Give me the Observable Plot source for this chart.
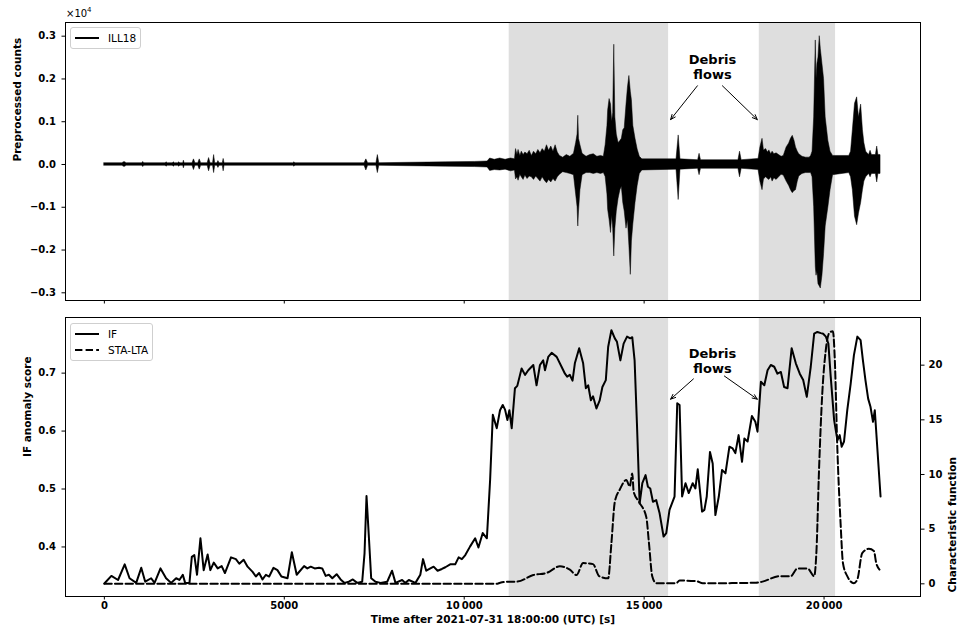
<!DOCTYPE html>
<html>
<head>
<meta charset="utf-8">
<script src="https://cdn.jsdelivr.net/npm/d3@7"></script>
<script src="https://cdn.jsdelivr.net/npm/@observablehq/plot@0.6"></script>
<style>
  body { margin: 0; background: #fff; }
  #chart { position: relative; width: 957px; height: 633px; font-family: "DejaVu Sans", sans-serif; background: #fff; overflow: hidden; }
  #chart svg { position: absolute; left: 0; }
  .legend { position: absolute; box-sizing: border-box; border: 1px solid #cfcfcf; border-radius: 3px; background: rgba(255,255,255,0.85); font-size: 10.5px; color: #000; padding: 2px 4px; }
  .legend .row { display: flex; align-items: center; height: 16px; }
  .legend svg { position: static !important; margin-right: 9px; }
  .mult { position: absolute; left: 66px; top: 6px; font-size: 10px; }
  .mult sup { font-size: 7px; vertical-align: 5px; }
</style>
</head>
<body>
<div id="chart"></div>
<script>
// ---------- texts ----------
const stationName = "ILL18";
const seriesNames = ["IF", "STA-LTA"];
const countLabel = "Preprocessed counts";
const ifLabel = "IF anomaly score";
const cfLabel = "Characteristic function";
const timeLabel = "Time after 2021-07-31 18:00:00 (UTC) [s]";
const annotationText = "Debris\nflows";

// ---------- ticks ----------
const timeTicks = [0, 5000, 10000, 15000, 20000];
const timeTickLabels = ["0", "5000", "10\u2009000", "15\u2009000", "20\u2009000"];
const countTicks = [-0.3, -0.2, -0.1, 0, 0.1, 0.2, 0.3];
const ifTicks = [0.4, 0.5, 0.6, 0.7];
const cfTicks = [0, 5, 10, 15, 20];

// ---------- debris-flow windows (s) ----------
const spanStart = [11250, 18200];
const spanEnd = [15680, 20320];

// ---------- annotation anchors (data units) ----------
const annTopT = 16900, annTopY = 0.228;
const arrowTopFromT = [16480, 17175], arrowTopFromY = [0.184, 0.184];
const arrowTopToT = [15735, 18145], arrowTopToY = [0.105, 0.105];
const annBotT = 16900, annBotY = 0.7216;
const arrowBotFromT = [16370, 17230], arrowBotFromY = [0.690, 0.695];
const arrowBotToT = [15735, 18145], arrowBotToY = [0.655, 0.655];

// ---------- seismic trace envelope (x10^4 counts) ----------
const waveT = [
  0,500,560,620,1050,1080,1110,1700,1730,1760,
  1900,1930,1960,2050,2080,2110,2190,2210,2230,2450,
  2490,2530,2610,2650,2690,2870,2910,2950,3020,3050,
  3080,3140,3170,3200,3290,3315,3340,5250,5280,5310,
  7230,7280,7330,7560,7600,7640,8500,9500,10300,10650,
  10720,10850,11000,11150,11300,11410,11440,11480,11510,11560,
  11600,11650,11700,11760,11820,11880,11940,12000,12060,12120,
  12180,12240,12300,12360,12420,12480,12540,12600,12660,12750,
  12850,12950,13050,13110,13150,13170,13190,13230,13290,13400,
  13500,13600,13700,13800,13880,13930,13980,14000,14040,14080,
  14110,14140,14170,14200,14240,14290,14340,14380,14420,14460,
  14510,14550,14590,14630,14660,14700,14760,14820,14880,14950,
  15900,15960,16010,16500,16540,16580,17620,17665,17710,18180,
  18230,18290,18330,18390,18440,18480,18530,18570,18620,18680,
  18750,18820,18880,18960,19030,19080,19130,19180,19220,19270,
  19310,19400,19500,19600,19640,19680,19725,19770,19790,19815,
  19845,19880,19910,19955,20000,20045,20120,20180,20250,20700,
  20750,20800,20860,20920,20970,21030,21080,21120,21170,21250,
  21292,21330,21440,21477,21510,21570
];
const waveHi = [
  .003,.003,.006,.003,.003,.006,.003,.003,.005,.003,
  .003,.005,.003,.003,.005,.003,.003,.009,.003,.003,
  .012,.003,.003,.012,.003,.003,.015,.003,.003,.022,
  .003,.003,.008,.003,.003,.013,.003,.003,.005,.003,
  .003,.012,.003,.003,.022,.003,.004,.005,.006,.007,
  .014,.011,.014,.011,.014,.012,.036,.022,.034,.020,
  .030,.022,.028,.024,.032,.020,.030,.024,.034,.026,
  .036,.030,.045,.032,.042,.030,.045,.028,.020,.016,
  .022,.018,.025,.050,.070,.114,.060,.045,.025,.018,
  .022,.024,.018,.020,.018,.045,.090,.126,.153,.140,
  .100,.120,.280,.110,.070,.050,.055,.060,.080,.085,
  .140,.180,.207,.170,.150,.090,.060,.035,.018,.012,
  .012,.068,.012,.010,.025,.010,.010,.030,.010,.013,
  .040,.060,.033,.036,.028,.033,.024,.030,.024,.026,
  .022,.018,.020,.040,.049,.060,.067,.055,.040,.030,
  .024,.018,.016,.016,.020,.030,.110,.290,.200,.235,
  .250,.300,.270,.235,.200,.110,.055,.030,.020,.020,
  .030,.080,.142,.157,.110,.140,.080,.050,.030,.022,
  .032,.022,.022,.042,.022,.022
];
const waveLo = [
  -.003,-.003,-.006,-.003,-.003,-.006,-.003,-.003,-.005,-.003,
  -.003,-.005,-.003,-.003,-.005,-.003,-.003,-.009,-.003,-.003,
  -.013,-.003,-.003,-.012,-.003,-.003,-.016,-.003,-.003,-.020,
  -.003,-.003,-.008,-.003,-.003,-.016,-.003,-.003,-.005,-.003,
  -.003,-.014,-.003,-.003,-.020,-.003,-.004,-.005,-.006,-.007,
  -.015,-.013,-.014,-.012,-.016,-.014,-.035,-.030,-.038,-.024,
  -.030,-.036,-.026,-.034,-.028,-.030,-.036,-.028,-.034,-.040,
  -.030,-.038,-.044,-.036,-.042,-.034,-.040,-.030,-.024,-.018,
  -.020,-.022,-.025,-.070,-.100,-.145,-.110,-.060,-.025,-.020,
  -.020,-.022,-.020,-.022,-.020,-.029,-.070,-.106,-.130,-.160,
  -.120,-.150,-.215,-.150,-.110,-.080,-.060,-.052,-.090,-.110,
  -.150,-.130,-.190,-.258,-.180,-.140,-.090,-.050,-.022,-.014,
  -.012,-.083,-.012,-.010,-.025,-.010,-.010,-.030,-.010,-.013,
  -.040,-.060,-.035,-.030,-.034,-.036,-.030,-.040,-.032,-.036,
  -.030,-.024,-.026,-.040,-.050,-.060,-.067,-.062,-.060,-.040,
  -.028,-.022,-.020,-.020,-.020,-.030,-.100,-.240,-.260,-.250,
  -.280,-.285,-.290,-.260,-.210,-.145,-.100,-.060,-.025,-.020,
  -.030,-.060,-.122,-.142,-.115,-.090,-.060,-.040,-.030,-.022,
  -.030,-.022,-.022,-.042,-.022,-.022
];

// ---------- IF anomaly score ----------
const ifT = [
  0,195,380,565,700,885,1025,1135,1300,1395,
  1560,1715,1855,1995,2085,2180,2245,2365,2430,2500,
  2575,2670,2760,2870,2945,3040,3150,3260,3350,3520,
  3655,3750,3870,3980,4120,4210,4300,4395,4490,4580,
  4700,4810,4920,5090,5210,5345,5550,5640,5735,5845,
  5965,6055,6150,6240,6335,6455,6565,6675,6795,6905,
  7025,7165,7230,7285,7350,7415,7535,7675,7860,7995,
  8090,8275,8365,8460,8645,8780,8855,8945,9060,9150,
  9260,9380,9475,9610,9750,9845,9935,10030,10165,10305,
  10395,10515,10630,10720,10795,10905,10995,11070,11135,11200,
  11255,11320,11410,11475,11595,11690,11780,11920,12010,12105,
  12195,12245,12335,12430,12570,12705,12800,12860,12935,13010,
  13075,13195,13305,13380,13445,13520,13580,13675,13765,13840,
  13935,14000,14090,14185,14245,14340,14430,14525,14615,14670,
  14735,14800,14875,14950,15040,15105,15170,15245,15335,15430,
  15540,15615,15705,15845,15920,15985,16055,16150,16240,16350,
  16425,16490,16610,16675,16740,16830,16905,16980,17075,17165,
  17260,17370,17460,17535,17625,17720,17785,17875,17995,18090,
  18150,18245,18340,18430,18520,18615,18705,18800,18890,18985,
  19100,19215,19325,19420,19520,19630,19725,19815,19910,19975,
  20050,20120,20185,20280,20370,20435,20490,20555,20645,20740,
  20830,20925,21015,21080,21150,21225,21290,21360,21410,21570
];
const ifScore = [
  0.337,0.350,0.343,0.370,0.346,0.338,0.364,0.340,0.346,0.338,
  0.363,0.346,0.338,0.346,0.343,0.352,0.338,0.338,0.383,0.386,
  0.352,0.415,0.360,0.387,0.360,0.373,0.363,0.367,0.355,0.382,
  0.379,0.371,0.378,0.366,0.357,0.349,0.355,0.344,0.352,0.349,
  0.364,0.360,0.349,0.346,0.391,0.352,0.367,0.363,0.366,0.363,
  0.364,0.363,0.350,0.352,0.346,0.353,0.344,0.338,0.340,0.344,
  0.338,0.340,0.389,0.488,0.418,0.346,0.340,0.338,0.340,0.359,
  0.338,0.343,0.338,0.343,0.338,0.352,0.379,0.359,0.363,0.366,
  0.359,0.362,0.365,0.370,0.370,0.382,0.379,0.386,0.401,0.415,
  0.399,0.424,0.415,0.516,0.628,0.605,0.636,0.645,0.637,0.619,
  0.636,0.605,0.674,0.678,0.708,0.697,0.705,0.714,0.679,0.714,
  0.722,0.705,0.728,0.735,0.728,0.711,0.699,0.694,0.697,0.687,
  0.717,0.743,0.717,0.674,0.679,0.653,0.660,0.639,0.653,0.676,
  0.688,0.745,0.774,0.760,0.754,0.722,0.751,0.763,0.760,0.762,
  0.722,0.613,0.475,0.510,0.524,0.504,0.501,0.478,0.481,0.458,
  0.418,0.424,0.464,0.487,0.648,0.645,0.487,0.510,0.493,0.510,
  0.501,0.534,0.461,0.464,0.487,0.564,0.544,0.455,0.487,0.533,
  0.527,0.573,0.570,0.562,0.593,0.547,0.587,0.582,0.626,0.616,
  0.599,0.685,0.679,0.705,0.714,0.711,0.699,0.702,0.676,0.674,
  0.743,0.717,0.699,0.688,0.659,0.711,0.768,0.771,0.769,0.768,
  0.763,0.751,0.694,0.619,0.584,0.593,0.573,0.582,0.636,0.682,
  0.731,0.763,0.757,0.722,0.688,0.656,0.642,0.616,0.636,0.487
];

// ---------- STA-LTA characteristic function ----------
const staT = [
  0,10900,11000,11270,11460,11920,12290,12660,12935,13120,
  13305,13580,13750,14000,14090,14185,14320,14505,14600,14670,
  14710,14855,15060,15135,15225,15335,15890,15985,16445,16630,
  18105,18290,18755,19075,19260,19540,19725,19790,19860,19950,
  20045,20155,20245,20300,20365,20460,20525,20645,20830,20925,
  21060,21245,21385,21450,21540
];
const staVal = [
  0,0,0.1,0.2,0.2,0.8,1.0,1.6,1.3,0.8,
  1.9,1.8,0.7,0.5,3.7,7.5,8.6,9.5,8.9,10.1,
  8.4,7.5,6.1,3.7,0.7,0.06,0.06,0.3,0.25,0.05,
  0.1,0.2,0.7,0.7,1.4,1.4,0.7,3.1,10.4,17.4,
  21.3,23.0,23.1,20.4,12.8,5.5,1.9,0.7,0.06,0.4,
  2.8,3.2,3.0,1.9,1.3
];

// ---------- layout ----------
const W = 957;
const xDomain = [-1080, 22680];
const topDomain = [-0.318, 0.332];
const ifDomain = [0.3145, 0.796];
const cfDomain = [-1.16, 24.36];
const baseStyle = { background: "transparent", fontFamily: "'DejaVu Sans', sans-serif", fontSize: "10px", fontWeight: "bold", overflow: "visible", color: "black" };
const fmtTime = d => timeTickLabels[timeTicks.indexOf(d)];
const spans = spanStart.map((s, i) => ({ x1: s, x2: spanEnd[i] }));
const chart = document.getElementById("chart");

// ----- top panel -----
const topPlot = Plot.plot({
  width: W, height: 310,
  marginTop: 22, marginBottom: 10, marginLeft: 65, marginRight: 37,
  style: baseStyle,
  x: { domain: xDomain },
  y: { domain: topDomain },
  marks: [
    Plot.rect(spans, { x1: "x1", x2: "x2", fill: "#dedede" }),
    Plot.areaY(d3.range(waveT.length), { x: i => waveT[i], y1: i => waveLo[i], y2: i => waveHi[i], fill: "black", stroke: "black", strokeWidth: 0.5, curve: "linear" }),
    Plot.axisX({ ticks: timeTicks, tickSize: 3.5, tickFormat: () => "", label: null }),
    Plot.axisY({ ticks: countTicks, tickSize: 3.5, tickPadding: 6, tickFormat: d3.format(".1f"), label: null }),
    Plot.frame({ stroke: "black", strokeWidth: 1 }),
    Plot.text([countLabel], { text: d => d, frameAnchor: "left", dx: -48, rotate: -90, fontSize: 10.5 }),
    Plot.text([annotationText], { text: d => d, x: annTopT, y: annTopY, fontSize: 13, lineHeight: 1.12 }),
    Plot.arrow(d3.range(2), { x1: i => arrowTopFromT[i], y1: i => arrowTopFromY[i], x2: i => arrowTopToT[i], y2: i => arrowTopToY[i], stroke: "black", strokeWidth: 1, headLength: 8, headAngle: 45 })
  ]
});
topPlot.style.top = "0px";
chart.appendChild(topPlot);

// ----- bottom panel (left axis: IF) -----
const botPlot = Plot.plot({
  width: W, height: 323,
  marginTop: 7, marginBottom: 37, marginLeft: 65, marginRight: 37,
  style: baseStyle,
  x: { domain: xDomain },
  y: { domain: ifDomain },
  marks: [
    Plot.rect(spans, { x1: "x1", x2: "x2", fill: "#dedede" }),
    Plot.line(d3.range(ifT.length), { x: i => ifT[i], y: i => ifScore[i], stroke: "black", strokeWidth: 2, strokeLinejoin: "round" }),
    Plot.axisX({ ticks: timeTicks, tickSize: 3.5, tickPadding: 2, tickFormat: fmtTime, label: null }),
    Plot.axisY({ ticks: ifTicks, tickSize: 3.5, tickPadding: 6, tickFormat: d3.format(".1f"), label: null }),
    Plot.frame({ stroke: "black", strokeWidth: 1 }),
    Plot.text([ifLabel], { text: d => d, frameAnchor: "left", dx: -38, rotate: -90, fontSize: 10.5 }),
    Plot.text([timeLabel], { text: d => d, frameAnchor: "bottom", dy: 26, fontSize: 10.5 }),
    Plot.text([annotationText], { text: d => d, x: annBotT, y: annBotY, fontSize: 13, lineHeight: 1.12 }),
    Plot.arrow(d3.range(2), { x1: i => arrowBotFromT[i], y1: i => arrowBotFromY[i], x2: i => arrowBotToT[i], y2: i => arrowBotToY[i], stroke: "black", strokeWidth: 1, headLength: 8, headAngle: 45 })
  ]
});
botPlot.style.top = "310px";
chart.appendChild(botPlot);

// ----- bottom panel (right axis: STA-LTA) -----
const twinPlot = Plot.plot({
  width: W, height: 323,
  marginTop: 7, marginBottom: 37, marginLeft: 65, marginRight: 37,
  style: baseStyle,
  x: { domain: xDomain, axis: null },
  y: { domain: cfDomain },
  marks: [
    Plot.line(d3.range(staT.length), { x: i => staT[i], y: i => staVal[i], stroke: "black", strokeWidth: 2, strokeDasharray: "7.4,3.2", curve: "monotone-x" }),
    Plot.axisY({ anchor: "right", ticks: cfTicks, tickSize: 3.5, tickPadding: 4.5, label: null }),
    Plot.text([cfLabel], { text: d => d, frameAnchor: "right", dx: 32, rotate: -90, fontSize: 10.5 })
  ]
});
twinPlot.style.top = "310px";
chart.appendChild(twinPlot);

// ----- x10^4 multiplier -----
const mult = document.createElement("div");
mult.className = "mult";
mult.innerHTML = "\u00d710<sup>4</sup>";
chart.appendChild(mult);

// ----- legends -----
function legend(entries, left, top) {
  const box = document.createElement("div");
  box.className = "legend";
  box.style.left = left + "px";
  box.style.top = top + "px";
  for (const e of entries) {
    const row = document.createElement("div");
    row.className = "row";
    row.innerHTML = `<svg width="24" height="6"><line x1="0" y1="3" x2="24" y2="3" stroke="black" stroke-width="2" ${e.dash ? 'stroke-dasharray="7.4,3.2"' : ""}/></svg><span>${e.name}</span>`;
    box.appendChild(row);
  }
  chart.appendChild(box);
}
legend([{ name: stationName, dash: false }], 70, 27);
legend([{ name: seriesNames[0], dash: false }, { name: seriesNames[1], dash: true }], 70, 323);
</script>
</body>
</html>
